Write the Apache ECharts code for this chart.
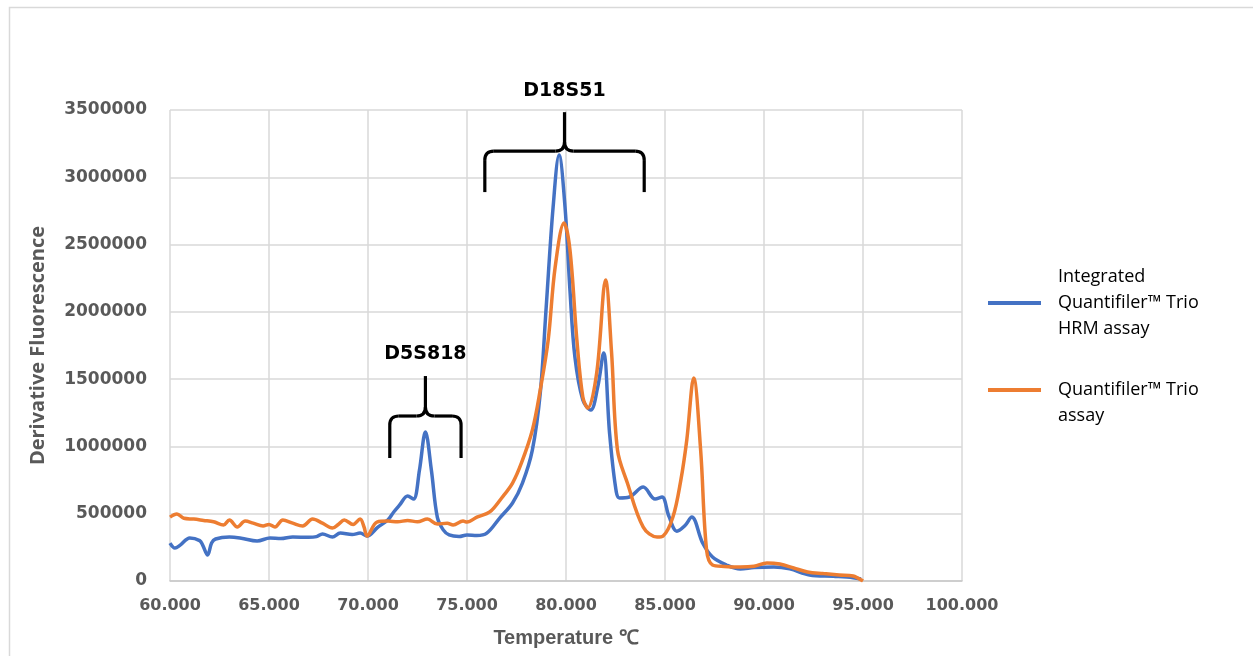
<!DOCTYPE html>
<html>
<head>
<meta charset="utf-8">
<script src="https://cdn.jsdelivr.net/npm/echarts@6/dist/echarts.min.js"></script>
<style>
    html, body { margin: 0; padding: 0; background: #fff; }
    #main { width: 1253px; height: 656px; }
</style>
</head>
<body>
<div id="main"></div>
<script>
// Integrated Quantifiler Trio HRM assay (blue)
var hrmTemp = [60.0, 60.25, 60.5, 61.0, 61.5, 61.65, 61.9, 62.1, 62.3, 63.0, 63.6, 64.4, 65.05, 65.6, 66.2, 67.0, 67.4, 67.7, 68.2, 68.6, 69.2, 69.6, 69.95,
    70.5, 71.0, 71.3, 71.6, 72.0, 72.3, 72.6, 72.9, 73.2, 73.5, 73.8, 74.1, 74.6, 75.0, 75.5, 76.0, 76.65, 77.3, 77.8, 78.3, 78.7, 79.0, 79.35, 79.65,
    79.95, 80.2, 80.45, 80.85, 81.25, 81.6, 81.9, 82.2, 82.5, 82.7, 83.2, 83.9, 84.5, 84.85, 85.2, 85.6, 86.0, 86.35, 86.9, 87.4, 88.1, 88.8,
    89.5, 90.5, 91.3, 92.3, 93.5, 94.5, 94.9];
var hrmVal = [282000, 245000, 265000, 320000, 300000, 267000, 193000, 282000, 312000, 327000, 318000, 297000, 320000, 315000, 327000, 325000, 330000, 349000, 327000, 356000, 345000, 356000, 334000,
    400000, 453000, 513000, 565000, 631000, 609000, 825000, 1107000, 825000, 475000, 380000, 342000, 330000, 342000, 338000, 356000, 468000, 580000, 728000, 973000, 1397000, 2036000, 2780000, 3165000,
    2780000, 2160000, 1664000, 1345000, 1270000, 1440000, 1694000, 1100000, 700000, 617000, 624000, 698000, 609000, 624000, 480000, 370000, 410000, 475000, 282000, 178000, 119000, 89000,
    100000, 104000, 90000, 45000, 35000, 25000, 15000];

// Quantifiler Trio assay (orange)
var trioTemp = [60.0, 60.35, 60.7, 61.2, 61.7, 62.2, 62.7, 63.0, 63.4, 63.8, 64.2, 64.7, 65.0, 65.3, 65.7, 66.2, 66.7, 67.2, 67.7, 68.2, 68.5, 68.8, 69.25, 69.6, 69.8, 69.95,
    70.45, 71.0, 71.5, 72.0, 72.5, 73.0, 73.5, 74.0, 74.3, 74.8, 75.0, 75.5, 76.15, 76.75, 77.3, 77.75, 78.3, 78.7, 79.1, 79.45, 79.9, 80.2, 80.55, 80.85,
    81.1, 81.55, 82.0, 82.3, 82.6, 83.1, 83.9, 84.6, 84.9, 85.4, 85.8, 86.1, 86.45, 86.8, 87.1, 87.4, 88.0, 88.8, 89.5, 90.15, 90.8, 91.5, 92.2, 93.0,
    93.8, 94.5, 95.0];
var trioVal = [475000, 498000, 466000, 460000, 450000, 440000, 416000, 453000, 401000, 445000, 430000, 409000, 420000, 401000, 453000, 430000, 409000, 460000, 430000, 393000, 420000, 453000, 420000, 460000, 401000, 334000,
    438000, 445000, 440000, 450000, 440000, 460000, 423000, 430000, 416000, 445000, 438000, 475000, 513000, 617000, 728000, 877000, 1120000, 1420000, 1790000, 2330000, 2660000, 2460000, 1790000, 1367000,
    1285000, 1545000, 2236000, 1700000, 973000, 728000, 401000, 327000, 334000, 475000, 750000, 1048000, 1508000, 973000, 230000, 119000, 108000, 104000, 110000, 134000, 126000, 97000, 67000, 55000,
    45000, 37000, 0];

// annotation braces
var braceLabels = ['D5S818', 'D18S51'];
var braceX0 = [71.1, 75.9];
var braceX1 = [74.7, 83.95];
var braceYEnd = [914000, 2890000];
var braceYBar = [1226000, 3195000];
var braceYTip = [1523000, 3484000];

var xTicks = [60, 100, 5];
var yTicks = [0, 3500000, 500000];

function pairs(xs, ys) {
    var out = [];
    for (var i = 0; i < xs.length; i++) {
        out.push([xs[i], ys[i]]);
    }
    return out;
}

var chart = echarts.init(document.getElementById('main'));

var option = {
    backgroundColor: '#fff',
    animation: false,
    color: ['#4472C4', '#ED7D31'],
    grid: {
        left: 170,
        right: 291,
        top: 110,
        bottom: 75
    },
    legend: {
        orient: 'vertical',
        left: 983,
        top: 259,
        itemWidth: 53,
        itemHeight: 4,
        itemGap: 9,
        icon: 'rect',
        textStyle: {
            fontFamily: 'Open Sans',
            fontSize: 18,
            lineHeight: 26,
            color: '#000',
            padding: [0, 0, 0, 12]
        },
        data: ['Integrated\nQuantifiler™ Trio\nHRM assay', '\nQuantifiler™ Trio\nassay']
    },
    xAxis: {
        type: 'value',
        min: xTicks[0],
        max: xTicks[1],
        interval: xTicks[2],
        name: 'Temperature ℃',
        nameLocation: 'middle',
        nameGap: 47,
        nameTextStyle: {
            fontFamily: 'Liberation Sans',
            fontWeight: 'bold',
            fontSize: 20,
            color: '#595959'
        },
        axisLine: { show: true, lineStyle: { color: '#c8c8c8', width: 1.5 } },
        axisTick: { show: false },
        splitLine: { show: true, lineStyle: { color: '#d9d9d9', width: 1.5 } },
        axisLabel: {
            margin: 17,
            fontFamily: 'DejaVu Sans',
            fontWeight: 'bold',
            fontSize: 16,
            color: '#595959',
            formatter: function (v) { return v.toFixed(3); }
        }
    },
    yAxis: {
        type: 'value',
        min: yTicks[0],
        max: yTicks[1],
        interval: yTicks[2],
        name: 'Derivative Fluorescence',
        nameLocation: 'middle',
        nameGap: 122,
        nameTextStyle: {
            fontFamily: 'Open Sans',
            fontWeight: 'bold',
            fontSize: 20,
            color: '#595959'
        },
        axisLine: { show: false },
        axisTick: { show: false },
        splitLine: { show: true, lineStyle: { color: '#d9d9d9', width: 1.5 } },
        axisLabel: {
            margin: 23,
            fontFamily: 'DejaVu Sans',
            fontWeight: 'bold',
            fontSize: 17,
            color: '#595959',
            formatter: function (v) { return String(v); }
        }
    },
    series: [
        {
            name: 'Integrated\nQuantifiler™ Trio\nHRM assay',
            type: 'line',
            smooth: 0.35,
            showSymbol: false,
            lineStyle: { width: 3.5 },
            data: pairs(hrmTemp, hrmVal)
        },
        {
            name: '\nQuantifiler™ Trio\nassay',
            type: 'line',
            smooth: 0.35,
            showSymbol: false,
            lineStyle: { width: 3.5 },
            data: pairs(trioTemp, trioVal)
        }
    ]
};
chart.setOption(option);

// braces and labels, positioned through the axes
var braceStyle = { stroke: '#000', lineWidth: 3.2, fill: 'none' };
function seg(x1, y1, x2, y2) {
    return { type: 'line', shape: { x1: x1, y1: y1, x2: x2, y2: y2 }, style: braceStyle, z: 10 };
}
function curve(x1, y1, cx, cy, x2, y2) {
    return { type: 'bezierCurve', shape: { x1: x1, y1: y1, x2: x2, y2: y2, cpx1: cx, cpy1: cy }, style: braceStyle, z: 10 };
}

var elements = [{
    type: 'rect',
    left: 7,
    top: 5,
    shape: { width: 1300, height: 700 },
    style: { fill: 'none', stroke: '#d9d9d9', lineWidth: 1.5 },
    z: -1
}];
for (var i = 0; i < braceLabels.length; i++) {
    var p0 = chart.convertToPixel({ gridIndex: 0 }, [braceX0[i], braceYEnd[i]]);
    var p1 = chart.convertToPixel({ gridIndex: 0 }, [braceX1[i], braceYBar[i]]);
    var pt = chart.convertToPixel({ gridIndex: 0 }, [braceX0[i], braceYTip[i]]);
    var a = p0[0], b = p1[0], m = (a + b) / 2;
    var e = p0[1], h = p1[1], t = pt[1], r = 9;
    elements.push(seg(a, e, a, h + r));
    elements.push(curve(a, h + r, a, h, a + r, h));
    elements.push(seg(a + r, h, m - r, h));
    elements.push(curve(m - r, h, m, h, m, h - r));
    elements.push(seg(m, h - r, m, t));
    elements.push(curve(m, h - r, m, h, m + r, h));
    elements.push(seg(m + r, h, b - r, h));
    elements.push(curve(b - r, h, b, h, b, h + r));
    elements.push(seg(b, h + r, b, e));
    elements.push({
        type: 'text',
        x: m,
        y: t - 12,
        style: {
            text: braceLabels[i],
            textAlign: 'center',
            textVerticalAlign: 'bottom',
            fill: '#000',
            font: 'bold 19px "DejaVu Sans"'
        },
        z: 10
    });
}
chart.setOption({ graphic: elements });
</script>
</body>
</html>
